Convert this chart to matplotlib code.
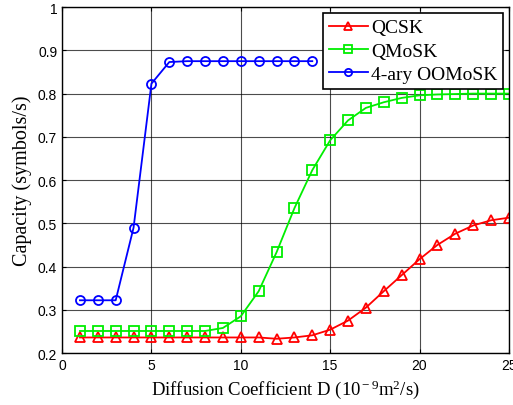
import numpy as np
import matplotlib.pyplot as plt

# valores
d_blue = list(range(1, 15))
cap_oomosk = [0.322, 0.322, 0.322, 0.490, 0.823, 0.873, 0.875, 0.875, 0.875,
              0.875, 0.875, 0.875, 0.875, 0.875]
d_all = list(range(1, 26))
cap_qmosk = [0.251, 0.251, 0.251, 0.251, 0.251, 0.251, 0.251, 0.251, 0.258,
             0.285, 0.343, 0.433, 0.535, 0.623, 0.692, 0.738, 0.767, 0.780,
             0.790, 0.796, 0.798, 0.799, 0.800, 0.800, 0.800]
cap_qcsk = [0.236, 0.236, 0.236, 0.236, 0.236, 0.236, 0.236, 0.236, 0.236,
            0.236, 0.236, 0.233, 0.236, 0.241, 0.254, 0.275, 0.305, 0.343,
            0.380, 0.417, 0.450, 0.476, 0.495, 0.507, 0.513]

serif = 'Liberation Serif'
sans = 'Liberation Sans'
plt.rcParams['mathtext.fontset'] = 'custom'
plt.rcParams['mathtext.rm'] = serif
plt.rcParams['mathtext.it'] = serif + ':italic'
plt.rcParams['axes.unicode_minus'] = False

fig = plt.figure(figsize=(5.13, 4.06), dpi=100)
ax = fig.add_axes([0.121, 0.128, 0.871, 0.852])

ax.plot(d_all, cap_qcsk, color='#ff0000', marker='^', mfc='none', ms=7, mew=1.3, lw=1.3, label='QCSK')
ax.plot(d_all, cap_qmosk, color='#00ee00', marker='s', mfc='none', ms=6.5, mew=1.3, lw=1.3, label='QMoSK')
ax.plot(d_blue, cap_oomosk, color='#0000ff', marker='o', mfc='none', ms=6.5, mew=1.3, lw=1.3, label='4-ary OOMoSK')

ax.set_xlim(0, 25)
ax.set_ylim(0.2, 1.0)
ax.set_xticks([0, 5, 10, 15, 20, 25])
ax.set_yticks(np.arange(0.2, 1.01, 0.1))
ax.set_yticklabels(['0.2', '0.3', '0.4', '0.5', '0.6', '0.7', '0.8', '0.9', '1'])
ax.grid(True, color='black', lw=0.8, alpha=0.7)
ax.tick_params(direction='in', top=True, right=True, labelsize=10, length=3)
for lab in ax.get_xticklabels() + ax.get_yticklabels():
    lab.set_family(sans)
for s in ax.spines.values():
    s.set_linewidth(1.0)

ax.set_xlabel(r'Diffusion Coefficient D (10$^{\rm -9}$m$^{\rm 2}$/s)', family=serif, fontsize=13.5)
ax.set_ylabel('Capacity (symbols/s)', family=serif, fontsize=14.5)

leg = ax.legend(loc='upper right', prop={'family': serif, 'size': 14}, fancybox=False,
                edgecolor='black', framealpha=1, borderpad=0.3, labelspacing=0.3,
                handlelength=2.0, handletextpad=0.15, borderaxespad=0.3, markerscale=0.8)
leg.get_frame().set_linewidth(1.2)

fig.savefig('out.png', dpi=100)
